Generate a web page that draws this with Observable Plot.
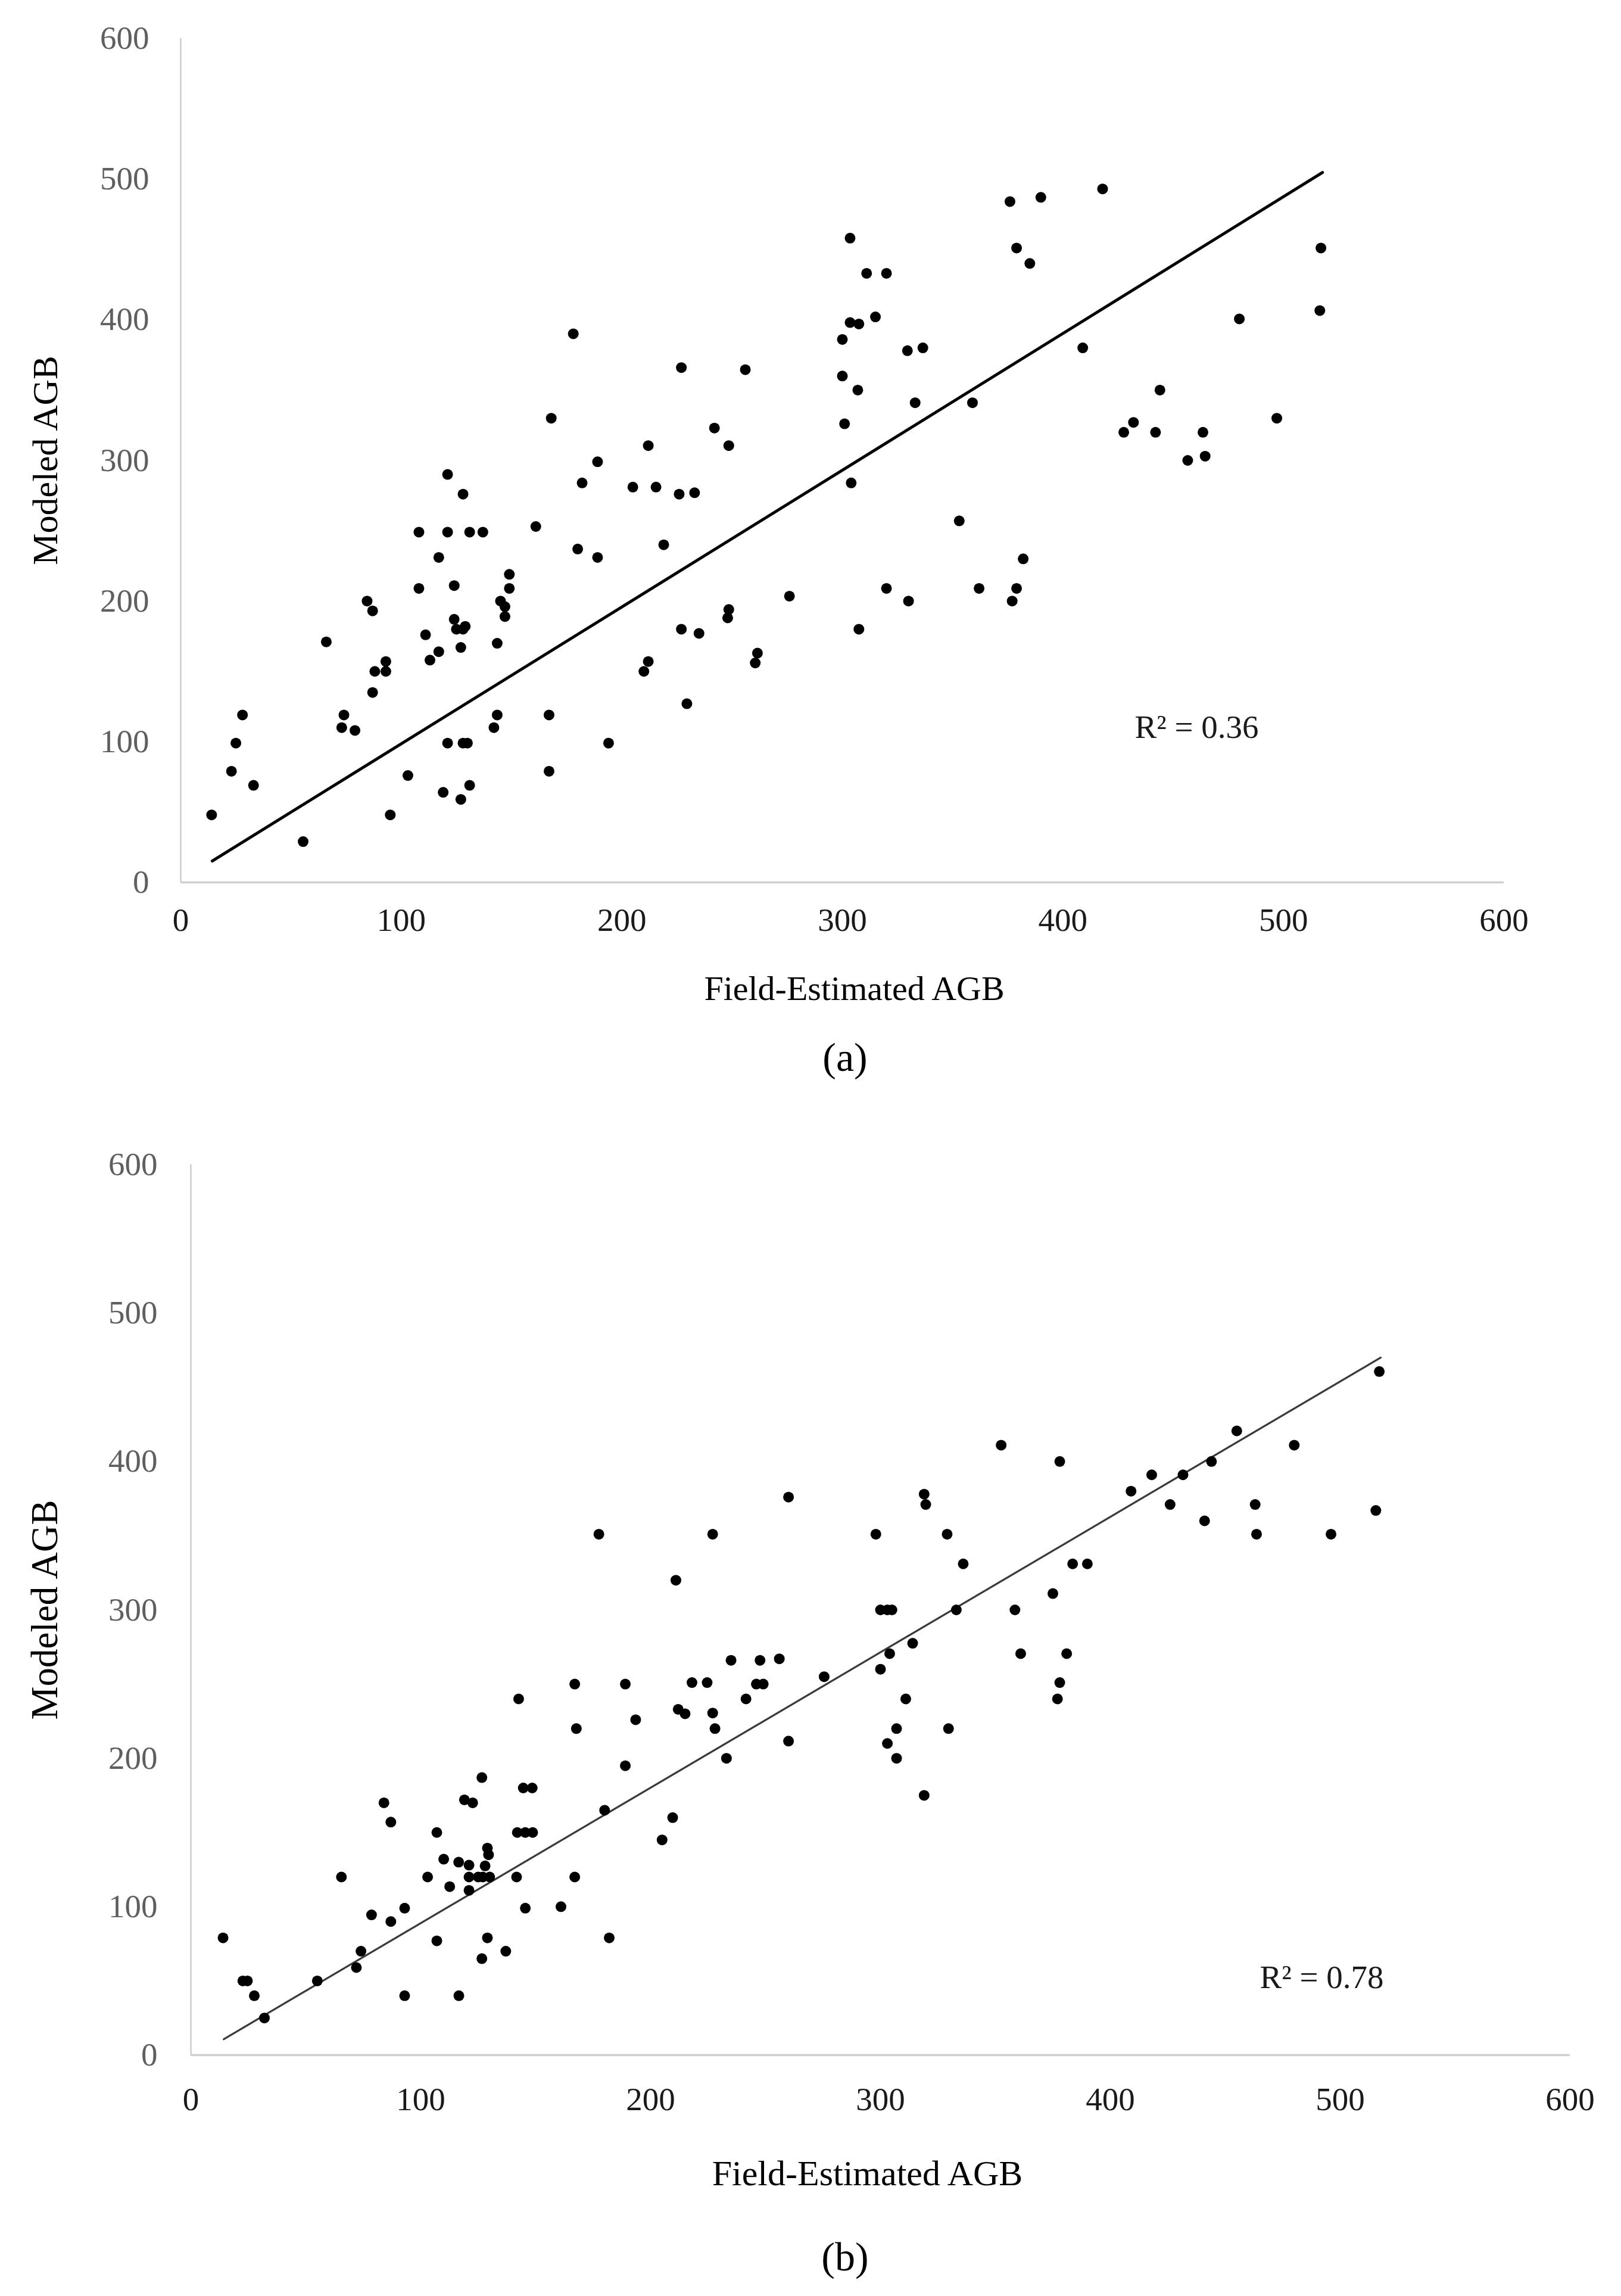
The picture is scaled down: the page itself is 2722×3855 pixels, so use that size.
<!DOCTYPE html>
<html>
<head>
<meta charset="utf-8">
<script src="https://cdn.jsdelivr.net/npm/d3@7"></script>
<script src="https://cdn.jsdelivr.net/npm/@observablehq/plot@0.6"></script>
<style>
html, body { margin: 0; padding: 0; background: #fff; }
#root { position: relative; width: 2722px; height: 3855px; background: #fff; font-family: "Liberation Serif", "Times New Roman", serif; overflow: hidden; }
.panel { position: absolute; left: 0; z-index: 1; }
.cap { position: absolute; width: 400px; text-align: center; font-size: 68px; line-height: 80px; color: #000; font-family: "Liberation Serif", serif; z-index: 5; }
</style>
</head>
<body>
<div id="root"></div>
<script>
// ---------- Data ----------
const xTicks = [0, 100, 200, 300, 400, 500, 600];
const yTicks = [0, 100, 200, 300, 400, 500, 600];
const xTitle = "Field-Estimated AGB";
const yTitle = "Modeled AGB";
const captions = ["(a)", "(b)"];
const r2Labels = ["R\u00B2 = 0.36", "R\u00B2 = 0.78"];

// Panel (a)
const fieldA = [178,168,189,182,121,128,108,121,131,137,161,117,180,189,149,149,108,124,84.5,87,145,147,147,124,125,128,129,111,66,127,143.5,117,113,93,88,93,87,28,74,73,79,25,121,128,130,143.5,142,167,194,23,33,103,167,119,131,127,14,95,55.5,
  376,390,303.5,379,385,311,320,303.5,307.5,315,300,329.5,336.5,227,256,300,307,333,359,301,242,212,248.5,304,205,215.5,226,233,219,353,382,276,248.5,248,320,330,362,379,377,227,235,307.5,212,210,261.5,260.5,229.5,
  418,517,516.5,480,409,444,432,427.6,442,463.5,497,456.6,464.5];
const modeledA = [390,330,299,284,290,276,249,249,249,249,253,231,237,231,219,209,209,211,200,193,200,196,189,187,180,180,182,176,171,167,170,164,158,157,150,150,135,119,119,110,108,99,99,99,99,119,110,119,99,79,69,76,79,64,69,59,48,48,29,
  484,487,458,451,440,433,433,398,397,402,386,378,380,366,364.5,360,350,341,341,326,323,310.5,310.5,284,281,281,276,277,240,257,230,203.5,194,188,209,200,209,209,200,180,177,180,157,150,163,156,127,
  493,451,406.5,400.6,380,350,327,320,320,320,330,300,303];
const trendAx = [14.3, 517.7];
const trendAy = [15.2, 504.7];

// Panel (b)
const fieldB = [177.5,167,189,142.6,167.7,193.5,189,126.6,144.6,148.5,84,119,122.6,87,107,142,145.5,148.7,180,129,129.5,110,116.5,121,128,65.5,103,121,125,127,130,112.6,121,141.7,167,93,78.6,87,145.5,161,14,107,129,182,74,126.6,137,72,22.6,24.6,55,27.6,93,116.6,32,
  352.5,378,260,319,319.7,227,298,329,211,336,383.6,390,300,303,305,333,358.5,375,304,314,361,381,300,235,247.6,256,275.5,218,224.6,246,249,378,377,241.5,311,212,215,227,228,307,329.6,260,303,307,233,319,209.6,205,
  517,455,480,444,418,431.6,409,426,463,441,515.5,463.6,496];
const modeledB = [351,250,250,240,220,226,195,187,180,180,170,172,170,157,150,150,150,150,165,139.5,135,132,130,128,127.5,120,120,120,120,120,120,113.5,111,120,120,99,94.5,90,99,100,79,77,79,79,70,65,70,59,50,50,50,40,40,40,25,
  411,400,376,378,371,351,351,351,320,331,331,331,300,300,300,300,300,311,270.5,277.5,270.5,270.5,260,266,266,267,255,251,251,250,250,251,240,240,240,233,230,230.5,220,220,220,211.6,210,200,200,175,160,145,
  460.6,420.6,411,400,391,391,380,371,371,360,367,351,351];
const trendBx = [14.3, 517.6];
const trendBy = [10.7, 470];

// ---------- Drawing ----------
function makePanel(cfg) {
  const pts = cfg.fx.map((x, i) => ({x, y: cfg.my[i]}));
  const trend = cfg.lx.map((x, i) => ({x, y: cfg.ly[i]}));
  return Plot.plot({
    width: 2722,
    height: cfg.height,
    marginTop: cfg.mTop,
    marginBottom: cfg.mBottom,
    marginLeft: cfg.mLeft,
    marginRight: cfg.mRight,
    style: {fontFamily: "'Liberation Serif', 'Times New Roman', serif", background: "transparent", overflow: "visible"},
    x: {domain: [0, 600]},
    y: {domain: [0, 600]},
    marks: [
      Plot.ruleX([0], {stroke: "#cccccc", strokeWidth: 2.5}),
      Plot.ruleY([0], {stroke: "#d0d0d0", strokeWidth: 3.5}),
      Plot.axisX({ticks: xTicks, tickSize: 0, tickPadding: cfg.xPad, fontSize: 55, fill: "#1a1a1a", label: null, tickFormat: d => String(d)}),
      Plot.axisY({ticks: yTicks, tickSize: 0, tickPadding: cfg.yPad, fontSize: 55, fill: "#5f5f5f", label: null, tickFormat: d => String(d)}),
      Plot.line(trend, {x: "x", y: "y", stroke: cfg.lineColor, strokeWidth: cfg.lineWidth}),
      Plot.dot(pts, {x: "x", y: "y", r: 9, fill: "#000", stroke: "none"}),
      Plot.text([cfg.r2], {text: d => d, frameAnchor: "bottom-right", textAnchor: "middle", lineAnchor: "middle", dx: cfg.r2dx, dy: cfg.r2dy, fontSize: 55, fill: "#1a1a1a"}),
      Plot.text([yTitle], {text: d => d, frameAnchor: "left", rotate: -90, textAnchor: "middle", lineAnchor: "middle", dx: cfg.yTitleDx, fontSize: cfg.yTitleSize, fill: "#000"}),
      Plot.text([xTitle], {text: d => d, frameAnchor: "bottom", textAnchor: "middle", lineAnchor: "middle", dx: cfg.xTitleDx, dy: cfg.xTitleDy, fontSize: cfg.xTitleSize, fill: "#000"})
    ]
  });
}

const root = document.getElementById("root");

const svgA = makePanel({
  fx: fieldA, my: modeledA, lx: trendAx, ly: trendAy,
  height: 1720, mTop: 64, mBottom: 239, mLeft: 303, mRight: 197,
  xPad: 42, yPad: 53, lineColor: "#000", lineWidth: 5,
  r2: r2Labels[0], r2dx: -516, r2dy: -260,
  yTitleDx: -227, xTitleDx: 20, xTitleDy: 179, yTitleSize: 60, xTitleSize: 58
});
svgA.classList.add("panel");
svgA.style.top = "0px";
root.appendChild(svgA);

const svgB = makePanel({
  fx: fieldB, my: modeledB, lx: trendBx, ly: trendBy,
  height: 1900, mTop: 155, mBottom: 250, mLeft: 320, mRight: 86,
  xPad: 53, yPad: 56, lineColor: "#3a3a3a", lineWidth: 3.2,
  r2: r2Labels[1], r2dx: -417, r2dy: -130,
  yTitleDx: -245, xTitleDx: -22, xTitleDy: 199, yTitleSize: 63, xTitleSize: 60
});
svgB.classList.add("panel");
svgB.style.top = "1800px";
root.appendChild(svgB);

const capA = document.createElement("div");
capA.className = "cap";
capA.textContent = captions[0];
capA.style.left = (1419 - 200) + "px";
capA.style.top = "1735px";
root.appendChild(capA);

const capB = document.createElement("div");
capB.className = "cap";
capB.textContent = captions[1];
capB.style.left = (1419 - 200) + "px";
capB.style.top = "3749px";
root.appendChild(capB);
</script>
</body>
</html>
